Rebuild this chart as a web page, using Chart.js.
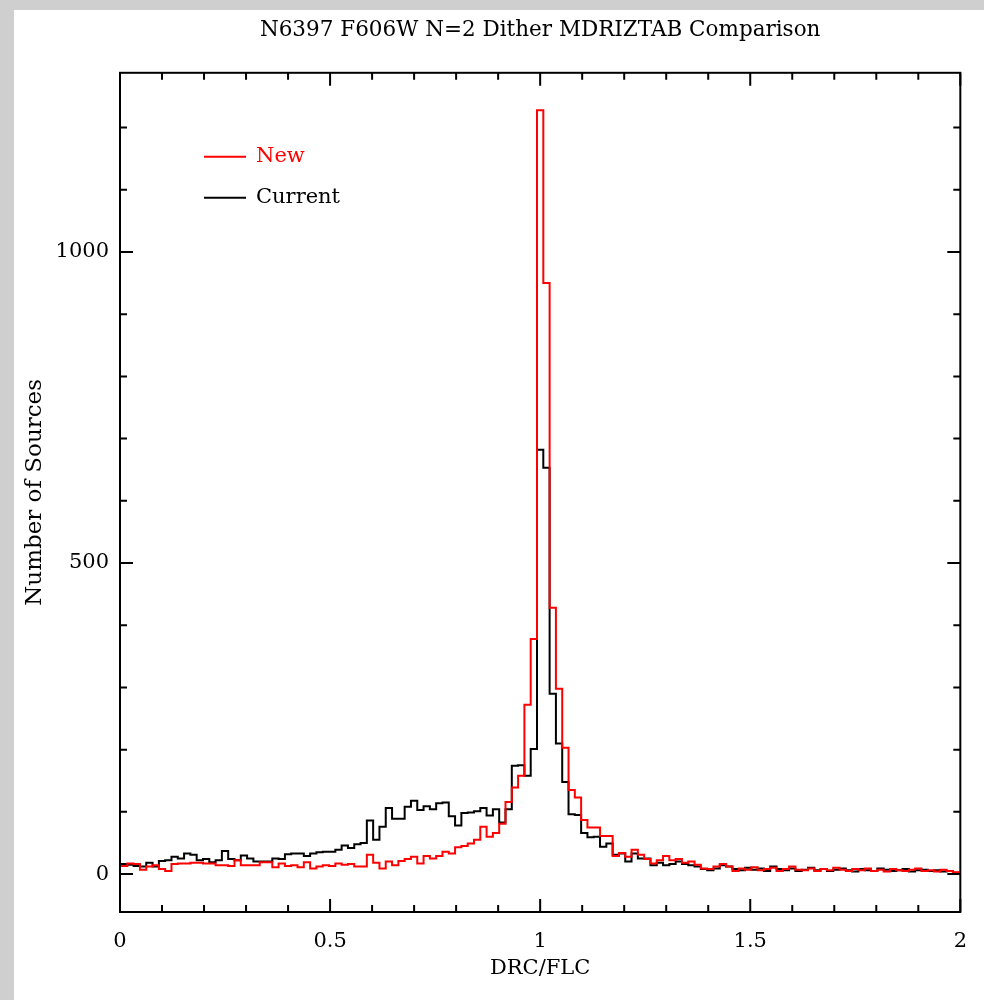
<!DOCTYPE html>
<html>
<head>
<meta charset="utf-8">
<title>N6397 F606W N=2 Dither MDRIZTAB Comparison</title>
<script src="https://cdn.jsdelivr.net/npm/chart.js@4.4.0/dist/chart.umd.min.js"></script>
<style>
  html, body { margin: 0; padding: 0; }
  body { width: 984px; height: 1000px; background: #cfcfcf; position: relative; overflow: hidden; }
  #wrap { position: absolute; left: 14px; top: 10px; width: 970px; height: 990px; background: #fff; }
</style>
</head>
<body>
<div id="wrap"><canvas id="hist"></canvas></div>
<script>
// histogram bins of DRC/FLC, first bin edge + width
var binStart = 0.0025;
var binWidth = 0.015;

var newCounts = [
  13, 17, 16, 7, 12, 14, 8, 5, 16, 17,
  17, 18, 18, 17, 17, 14, 14, 13, 22, 14,
  14, 14, 19, 19, 11, 17, 13, 14, 11, 19,
  9, 12, 14, 13, 17, 15, 16, 12, 12, 31,
  18, 9, 20, 14, 21, 24, 28, 17, 29, 25,
  29, 36, 33, 43, 45, 49, 55, 76, 60, 66,
  81, 116, 139, 158, 272, 378, 1228, 950, 428, 298,
  203, 135, 123, 87, 75, 75, 61, 61, 29, 34,
  28, 39, 31, 24, 17, 22, 29, 22, 24, 18,
  20, 15, 9, 8, 12, 16, 12, 5, 9, 7,
  11, 6, 8, 10, 5, 8, 12, 7, 6, 9,
  5, 8, 6, 10, 7, 5, 8, 6, 9, 5,
  7, 4, 8, 6, 5, 7, 9, 5, 6, 4,
  7, 5, 3
];

var currentCounts = [
  16, 15, 13, 12, 18, 12, 21, 22, 28, 25,
  33, 31, 22, 24, 19, 22, 37, 24, 22, 30,
  25, 20, 20, 20, 25, 24, 32, 33, 33, 29,
  33, 35, 36, 36, 39, 46, 42, 48, 50, 86,
  55, 76, 106, 89, 89, 108, 118, 103, 109, 104,
  114, 115, 93, 78, 98, 99, 101, 106, 94, 104,
  83, 104, 174, 175, 158, 201, 682, 653, 290, 210,
  148, 96, 95, 66, 59, 60, 44, 49, 31, 33,
  20, 33, 25, 25, 14, 18, 14, 16, 20, 16,
  14, 12, 8, 6, 9, 14, 12, 8, 6, 10,
  7, 9, 5, 12, 8, 6, 9, 5, 7, 10,
  6, 8, 5, 7, 9, 6, 4, 8, 6, 5,
  9, 7, 5, 6, 8, 4, 6, 7, 5, 6,
  4, 5, 2
];

var xTickLabels = [0, 0.5, 1, 1.5, 2];
var yTickLabels = [0, 500, 1000];

var FONT = "'DejaVu Serif', serif";

function stepPoints(counts) {
  var pts = counts.map(function (c, i) {
    return { x: binStart + i * binWidth, y: c };
  });
  // close the last bin
  pts.push({ x: binStart + counts.length * binWidth, y: counts[counts.length - 1] });
  return pts;
}

function findLabel(v, list) {
  for (var i = 0; i < list.length; i++) {
    if (Math.abs(v - list[i]) < 1e-6) return String(list[i]);
  }
  return "";
}

function near(v, step) {
  return Math.abs(v / step - Math.round(v / step)) < 1e-6;
}

// ticks pointing into the plot on all four sides, plus the frame
var inwardTicks = {
  id: "inwardTicks",
  afterDraw: function (chart) {
    var ctx = chart.ctx, a = chart.chartArea;
    var xs = chart.scales.x, ys = chart.scales.y;
    ctx.save();
    ctx.strokeStyle = "#000";
    ctx.lineWidth = 2;
    ctx.beginPath();
    xs.ticks.forEach(function (t) {
      var px = xs.getPixelForValue(t.value);
      var len = near(t.value, 0.5) ? 13 : 7;
      ctx.moveTo(px, a.bottom); ctx.lineTo(px, a.bottom - len);
      ctx.moveTo(px, a.top); ctx.lineTo(px, a.top + len);
    });
    ys.ticks.forEach(function (t) {
      if (t.value < ys.min || t.value > ys.max || !near(t.value, 100)) return;
      var py = ys.getPixelForValue(t.value);
      var len = near(t.value, 500) ? 13 : 7;
      ctx.moveTo(a.left, py); ctx.lineTo(a.left + len, py);
      ctx.moveTo(a.right, py); ctx.lineTo(a.right - len, py);
    });
    ctx.stroke();
    ctx.strokeRect(a.left, a.top, a.right - a.left, a.bottom - a.top);
    ctx.restore();
  }
};

// legend drawn inside the upper left of the plot
var innerLegend = {
  id: "innerLegend",
  afterDatasetsDraw: function (chart) {
    var ctx = chart.ctx, a = chart.chartArea;
    ctx.save();
    chart.data.datasets.forEach(function (ds, i) {
      var y = a.top + 84 + i * 41;
      ctx.strokeStyle = ds.borderColor;
      ctx.lineWidth = 2;
      ctx.beginPath();
      ctx.moveTo(a.left + 84, y);
      ctx.lineTo(a.left + 126, y);
      ctx.stroke();
      ctx.fillStyle = ds.borderColor;
      ctx.font = "21px " + FONT;
      ctx.textBaseline = "middle";
      ctx.fillText(ds.label, a.left + 136, y);
    });
    ctx.restore();
  }
};

function drawHistogram() {
  new Chart("hist", {
    type: "line",
    data: {
      datasets: [
        {
          label: "New",
          data: stepPoints(newCounts),
          borderColor: "#ff0000",
          borderWidth: 2,
          pointRadius: 0,
          stepped: true,
          fill: false
        },
        {
          label: "Current",
          data: stepPoints(currentCounts),
          borderColor: "#000000",
          borderWidth: 2,
          pointRadius: 0,
          stepped: true,
          fill: false
        }
      ]
    },
    options: {
      animation: false,
      responsive: true,
      maintainAspectRatio: false,
      layout: { padding: { left: 0, right: 23, top: 0, bottom: 0 } },
      plugins: {
        legend: { display: false },
        tooltip: { enabled: false },
        title: {
          display: true,
          text: "N6397 F606W N=2 Dither MDRIZTAB Comparison",
          color: "#000",
          fullSize: false,
          font: { family: FONT, size: 21.5, weight: "normal" },
          padding: { top: 8, bottom: 29 }
        }
      },
      scales: {
        x: {
          type: "linear",
          min: 0,
          max: 2,
          grid: { display: false, drawTicks: false },
          border: { display: false },
          ticks: {
            stepSize: 0.1,
            autoSkip: false,
            maxRotation: 0,
            padding: 17,
            color: "#000",
            font: { family: FONT, size: 21 },
            callback: function (v) { return findLabel(v, xTickLabels); }
          },
          title: {
            display: true,
            text: "DRC/FLC",
            color: "#000",
            font: { family: FONT, size: 21 },
            padding: { top: 0, bottom: 19 }
          },
          afterFit: function (s) { s.height = 88; }
        },
        y: {
          type: "linear",
          min: -61,
          max: 1288,
          grid: { display: false, drawTicks: false },
          border: { display: false },
          ticks: {
            stepSize: 100,
            includeBounds: false,
            autoSkip: false,
            padding: 11,
            color: "#000",
            font: { family: FONT, size: 21 },
            callback: function (v) { return findLabel(v, yTickLabels); }
          },
          title: {
            display: true,
            text: "Number of Sources",
            color: "#000",
            font: { family: FONT, size: 23 },
            padding: { top: 7, bottom: 0 }
          },
          afterFit: function (s) { s.width = 106; }
        }
      }
    },
    plugins: [inwardTicks, innerLegend]
  });
}

drawHistogram();
</script>
</body>
</html>
